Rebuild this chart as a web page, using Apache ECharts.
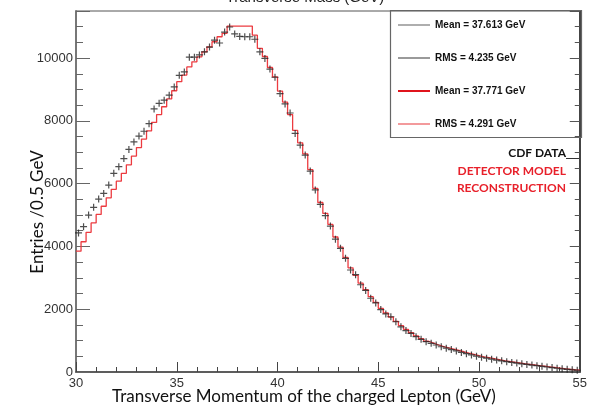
<!DOCTYPE html>
<html>
<head>
<meta charset="utf-8">
<script src="https://cdn.jsdelivr.net/npm/echarts@6/dist/echarts.min.js"></script>
<style>
  html, body { margin: 0; padding: 0; background: #fff; }
  #chart { width: 590px; height: 410px; }
</style>
</head>
<body>
<div id="chart"></div>
<script>
// 0.25 GeV bins from 30 to 55 GeV
var binStart = 30;
var binWidth = 0.25;
var xRange = [30, 55];
var yRange = [0, 11500];

// CDF data, entries per bin
var cdfData = [
  4430, 4630, 5000, 5245, 5510, 5690, 5955, 6330, 6540, 6800,
  7090, 7330, 7515, 7670, 7910, 8380, 8560, 8660, 8820, 9080,
  9450, 9560, 10030, 10030, 10100, 10200, 10350, 10570, 10480, 10830,
  10990, 10770, 10690, 10680, 10680, 10600, 10200, 9990, 9650, 9390,
  8870, 8540, 8250, 7600, 7230, 6910, 6400, 5800, 5340, 4980,
  4650, 4230, 3940, 3620, 3250, 3100, 2780, 2600, 2350, 2200,
  1990, 1850, 1760, 1600, 1440, 1320, 1230, 1125, 1040, 965,
  915, 860, 805, 760, 715, 670, 625, 585, 545, 505,
  470, 440, 410, 380, 355, 330, 305, 285, 260, 240,
  220, 200, 180, 160, 140, 120, 100, 85, 70, 55
];

// detector model reconstruction, entries per bin
var modelData = [
  3850, 4150, 4450, 4750, 5020, 5280, 5550, 5820, 6080, 6330,
  6600, 6880, 7150, 7420, 7680, 7950, 8200, 8450, 8700, 8960,
  9250, 9460, 9720, 9880, 10040, 10200, 10360, 10520, 10680, 10790,
  11020, 11020, 11020, 11020, 11020, 10730, 10310, 10050, 9700, 9400,
  8950, 8600, 8200, 7700, 7300, 6950, 6450, 5850, 5400, 5050,
  4700, 4300, 3980, 3650, 3320, 3080, 2830, 2620, 2400, 2220,
  2030, 1880, 1750, 1610, 1480, 1360, 1250, 1150, 1060, 980,
  920, 860, 810, 765, 725, 685, 645, 600, 560, 520,
  485, 455, 425, 395, 365, 340, 315, 290, 265, 245,
  225, 205, 185, 165, 145, 125, 105, 88, 72, 58
];

var legendNames = ['Mean = 37.613 GeV', 'RMS = 4.235 GeV', 'Mean = 37.771 GeV', 'RMS = 4.291 GeV'];
var legendColors = ['#9a9a9a', '#9a9a9a', '#e0141c', '#f39a9c'];

var cdfPoints = cdfData.map(function (v, i) {
  return [binStart + (i + 0.5) * binWidth, v];
});
var modelPoints = modelData.map(function (v, i) {
  return [binStart + i * binWidth, v];
});
modelPoints.push([binStart + modelData.length * binWidth, modelData[modelData.length - 1]]);

var chart = echarts.init(document.getElementById('chart'));

var option = {
  backgroundColor: '#fff',
  animation: false,
  grid: {
    left: 76, right: 7, top: 11, bottom: 38,
    show: true, borderColor: '#555', borderWidth: 1
  },
  legend: {
    orient: 'vertical',
    left: 398, top: 19,
    padding: 0,
    itemWidth: 32, itemHeight: 2, itemGap: 21,
    selectedMode: false,
    textStyle: { fontFamily: 'Liberation Sans', fontWeight: 'bold', fontSize: 10, color: '#111', lineHeight: 12 },
    data: legendNames.map(function (n, i) {
      return {
        name: n, icon: 'rect',
        itemStyle: { color: legendColors[i], borderColor: legendColors[i], borderWidth: 0 }
      };
    })
  },
  xAxis: {
    type: 'value',
    min: xRange[0], max: xRange[1], interval: 5,
    axisLine: { lineStyle: { color: '#444', width: 1.5 } },
    axisTick: { inside: true, length: 10, lineStyle: { color: '#444' } },
    minorTick: { show: true, splitNumber: 5, length: 5, lineStyle: { color: '#444' } },
    splitLine: { show: false },
    axisLabel: { fontFamily: 'Liberation Sans', fontSize: 13, color: '#333', margin: 5 }
  },
  yAxis: [{
    type: 'value',
    min: yRange[0], max: yRange[1], interval: 2000,
    axisLine: { show: true, lineStyle: { color: '#777', width: 2 } },
    axisTick: { inside: true, length: 14, lineStyle: { color: '#666' } },
    minorTick: { show: true, splitNumber: 4, length: 7, lineStyle: { color: '#666' } },
    splitLine: { show: false },
    axisLabel: {
      fontFamily: 'Liberation Sans', fontSize: 13, color: '#333', margin: 3, showMaxLabel: false,
      formatter: function (v) { return String(v); }
    }
  }, {
    type: 'value',
    position: 'right',
    min: yRange[0], max: yRange[1], interval: 2000,
    axisLine: { show: true, lineStyle: { color: '#444', width: 2 } },
    axisTick: { inside: true, length: 10, lineStyle: { color: '#555' } },
    minorTick: { show: true, splitNumber: 4, length: 5, lineStyle: { color: '#555' } },
    splitLine: { show: false },
    axisLabel: { show: false }
  }],
  series: [{
    name: legendNames[2],
    type: 'line',
    step: 'end',
    data: modelPoints,
    showSymbol: false,
    silent: true,
    lineStyle: { color: '#ec3b40', width: 1.3 },
    z: 2
  }, {
    name: legendNames[0],
    type: 'scatter',
    data: cdfPoints,
    symbol: 'path://M0,4L8,4M4,0L4,8',
    symbolSize: 7,
    silent: true,
    itemStyle: { color: '#222', borderColor: '#222', borderWidth: 1.2 },
    z: 3
  }, {
    name: legendNames[1], type: 'line', data: []
  }, {
    name: legendNames[3], type: 'line', data: []
  }],
  graphic: [
    // legend frame
    { type: 'rect', shape: { x: 390.5, y: 10.5, width: 191, height: 127 },
      style: { fill: 'none', stroke: '#666', lineWidth: 1.2 }, z: 10 },
    { type: 'text', x: 305, y: -2,
      style: { text: 'Transverse Mass (GeV)', font: '15px "Liberation Sans"', fill: '#222', textAlign: 'center', textVerticalAlign: 'middle' } },
    { type: 'text', x: 38, y: 212, rotation: Math.PI / 2,
      style: { text: 'Entries /0.5 GeV', font: '17px Lato', fill: '#111', textAlign: 'center', textVerticalAlign: 'middle' } },
    { type: 'text', x: 304, y: 397,
      style: { text: 'Transverse Momentum of the charged Lepton (GeV)', font: '17px Lato', fill: '#111', textAlign: 'center', textVerticalAlign: 'middle' } },
    { type: 'text', x: 566, y: 153,
      style: { text: 'CDF DATA', font: 'bold 12px Lato', fill: '#111', textAlign: 'right', textVerticalAlign: 'middle' } },
    { type: 'line', shape: { x1: 566, y1: 158.5, x2: 580, y2: 158.5 },
      style: { stroke: '#333', lineWidth: 1 } },
    { type: 'text', x: 566, y: 171,
      style: { text: 'DETECTOR MODEL', font: 'bold 12px Lato', fill: '#e8202a', textAlign: 'right', textVerticalAlign: 'middle' } },
    { type: 'text', x: 566, y: 188,
      style: { text: 'RECONSTRUCTION', font: 'bold 12px Lato', fill: '#e8202a', textAlign: 'right', textVerticalAlign: 'middle' } }
  ]
};

chart.setOption(option);
</script>
</body>
</html>
